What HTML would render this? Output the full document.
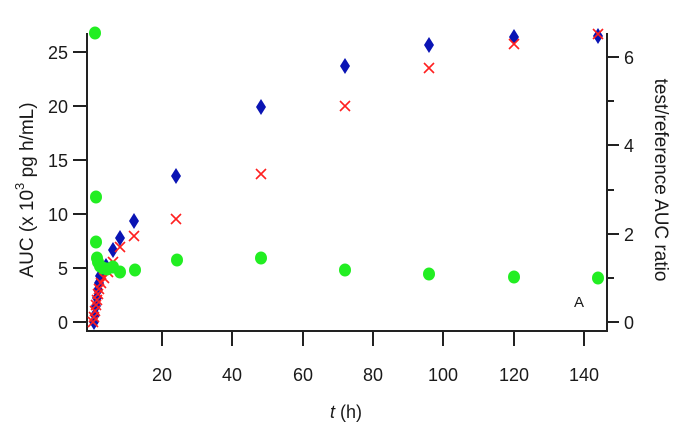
<!DOCTYPE html>
<html><head><meta charset="utf-8"><style>body{margin:0;background:#fff}svg{display:block}text{font-family:"Liberation Sans",Arial,sans-serif;fill:#1a1a1a}</style></head><body>
<svg width="684" height="430" viewBox="0 0 684 430" xmlns="http://www.w3.org/2000/svg">
<defs>
<g id="d"><path d="M0,-8 L5,0 L0,8 L-5,0Z" fill="#0a14b4"/></g>
<g id="x"><path d="M-5,-5L5,5M-5,5L5,-5" stroke="#ff2020" stroke-width="1.6" fill="none"/></g>
<g id="c"><ellipse rx="6" ry="6.5" fill="#22ee22"/></g>
</defs>
<g stroke="#222" stroke-width="2" fill="none">
<path d="M87,33V331H607V33"/>
<path d="M73,322H87M73,268H87M73,214H87M73,160H87M73,106H87M73,52H87"/>
<path d="M162,331V346M232,331V346M303,331V346M373,331V346M443,331V346M514,331V346M584,331V346"/>
<path d="M607,322H619M607,278H614M607,234H619M607,190H614M607,145H619M607,101H614M607,57H619"/>
</g>
<g font-size="18" text-anchor="end">
<text x="68" y="329">0</text><text x="68" y="275">5</text><text x="68" y="221">10</text><text x="68" y="167">15</text><text x="68" y="113">20</text><text x="68" y="59">25</text>
</g>
<g font-size="18" text-anchor="middle">
<text x="162" y="381">20</text><text x="232" y="381">40</text><text x="303" y="381">60</text><text x="373" y="381">80</text><text x="443" y="381">100</text><text x="514" y="381">120</text><text x="584" y="381">140</text>
<text x="346" y="418"><tspan font-style="italic">t</tspan> (h)</text>
</g>
<g font-size="18">
<text x="624" y="329">0</text><text x="624" y="241">2</text><text x="624" y="152">4</text><text x="624" y="64">6</text>
</g>
<text font-size="15" x="574" y="307">A</text>
<text font-size="19" transform="translate(33,190) rotate(-90)" text-anchor="middle">AUC (x 10<tspan dy="-9" font-size="13">3</tspan><tspan dy="9"> pg h/mL)</tspan></text>
<text font-size="19" transform="translate(655,180) rotate(90)" text-anchor="middle">test/reference AUC ratio</text>
<g>
<use href="#d" x="94" y="322"/><use href="#d" x="95" y="315"/><use href="#d" x="96" y="306"/><use href="#d" x="97" y="298"/><use href="#d" x="98" y="290"/><use href="#d" x="99" y="283"/><use href="#d" x="100" y="276"/><use href="#d" x="102" y="270"/><use href="#d" x="106" y="266"/>
<use href="#d" x="113" y="250"/><use href="#d" x="120" y="238"/><use href="#d" x="134" y="221"/><use href="#d" x="176" y="176"/><use href="#d" x="261" y="107"/><use href="#d" x="345" y="66"/><use href="#d" x="429" y="45"/><use href="#d" x="514" y="37"/><use href="#d" x="598" y="36"/>
</g>
<g>
<use href="#x" x="93" y="322"/><use href="#x" x="94" y="317"/><use href="#x" x="95" y="311"/><use href="#x" x="96" y="305"/><use href="#x" x="97" y="300"/><use href="#x" x="98" y="294"/><use href="#x" x="99" y="289"/><use href="#x" x="101" y="283"/><use href="#x" x="104" y="278"/><use href="#x" x="108" y="272"/>
<use href="#x" x="113" y="262"/><use href="#x" x="120" y="247"/><use href="#x" x="134" y="236"/><use href="#x" x="176" y="219"/><use href="#x" x="261" y="174"/><use href="#x" x="345" y="106"/><use href="#x" x="429" y="68"/><use href="#x" x="514" y="44"/><use href="#x" x="598" y="34"/>
</g>
<g>
<use href="#c" x="95" y="33"/><use href="#c" x="96" y="197"/><use href="#c" x="96" y="242"/><use href="#c" x="97" y="258"/><use href="#c" x="98" y="262"/><use href="#c" x="100" y="266"/><use href="#c" x="103" y="268"/><use href="#c" x="107" y="269"/>
<use href="#c" x="113" y="267"/><use href="#c" x="120" y="272"/><use href="#c" x="135" y="270"/><use href="#c" x="177" y="260"/><use href="#c" x="261" y="258"/><use href="#c" x="345" y="270"/><use href="#c" x="429" y="274"/><use href="#c" x="514" y="277"/><use href="#c" x="598" y="278"/>
</g>
</svg>
</body></html>
